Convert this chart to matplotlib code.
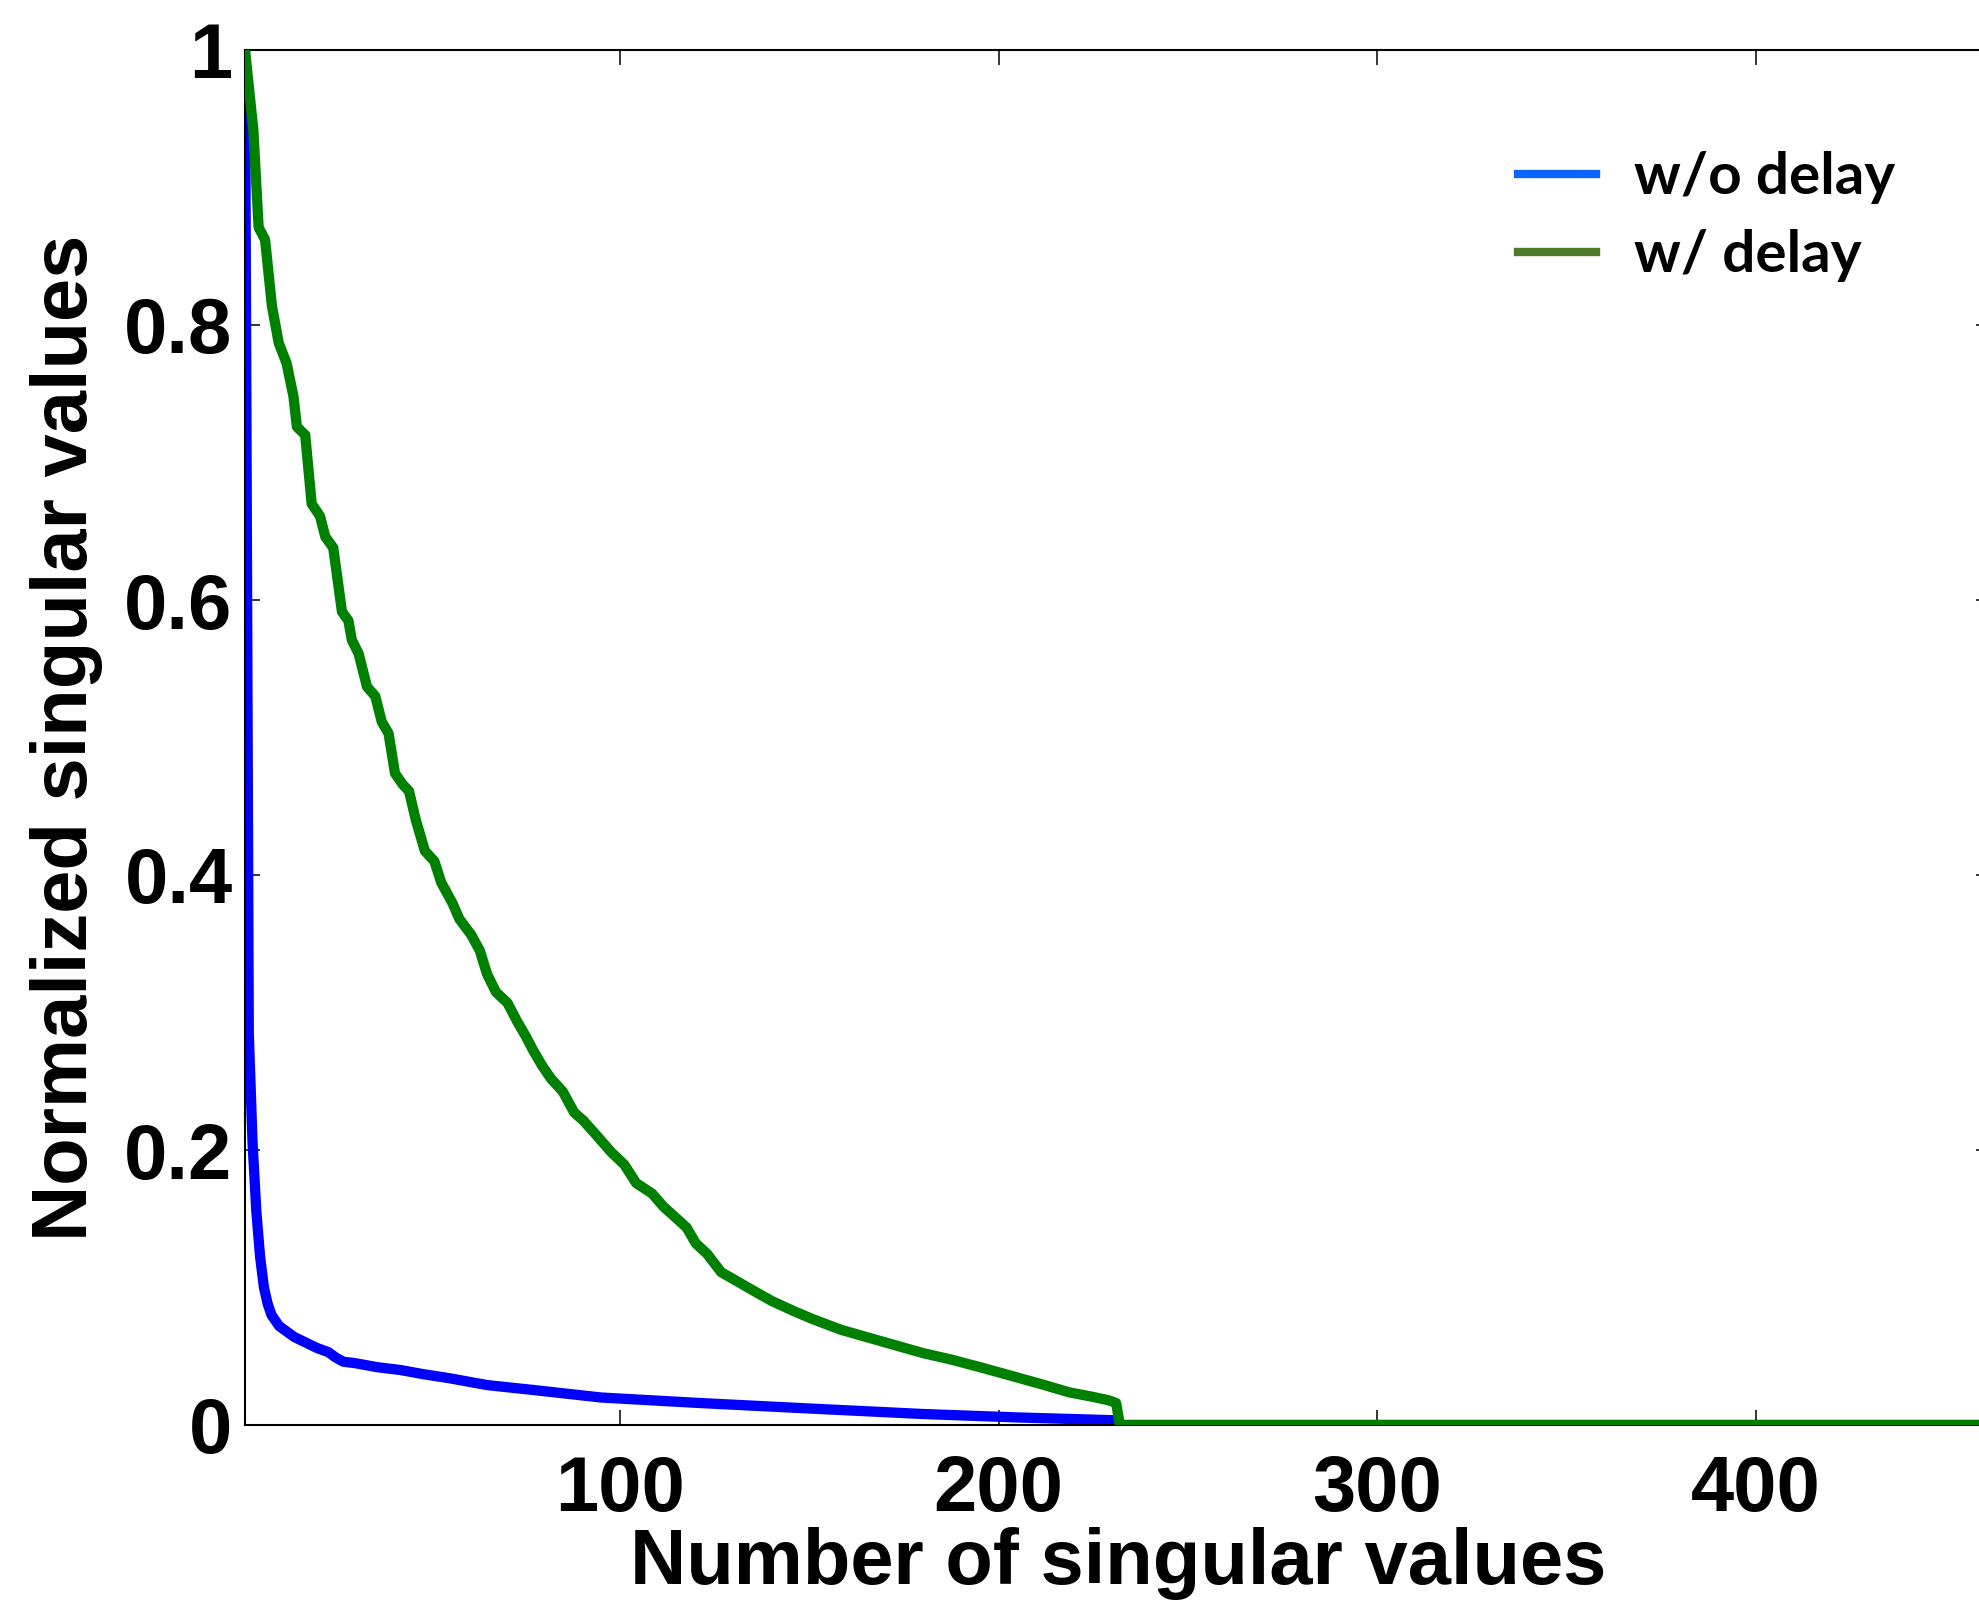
import matplotlib
matplotlib.use("Agg")
import matplotlib.pyplot as plt
from matplotlib.lines import Line2D

# ---- data ----
wo_x = [1, 2, 3, 4, 5, 6, 7, 8, 9, 10, 12, 14, 17, 20, 23, 25, 27, 30, 33, 36, 42, 48,
        55, 65, 77, 95, 121, 150, 180, 205, 230, 231, 462]
wo_y = [1.0, 0.285, 0.205, 0.155, 0.122, 0.100, 0.088, 0.080, 0.076, 0.072, 0.068, 0.064,
        0.060, 0.056, 0.053, 0.049, 0.046, 0.045, 0.0435, 0.042, 0.040, 0.037, 0.034,
        0.029, 0.0255, 0.0200, 0.016, 0.012, 0.008, 0.0055, 0.0035, 0.0, 0.0]

w_x = [1, 3.2, 4.6, 6.3, 8.1, 9.9, 12, 13.8, 14.7, 16.9, 18.6, 20.8, 22.2, 24.3, 26.6, 28.3,
       29.2, 31, 33.2, 35.4, 37.1, 38.9, 40.6, 42.6, 44.3, 46.1, 48.5, 51, 52.8, 55.8, 57.6,
       60.7, 63, 64.9, 67.3, 70.3, 72.8, 75.2, 77, 79.4, 81.8, 84.9, 87.9, 90.3, 94, 97.6,
       101.2, 104.3, 108.5, 111.5, 114.6, 117.6, 120, 123, 126.7, 130.3, 135.1, 140, 146,
       150.9, 158.2, 165.4, 172.7, 180, 187.3, 195.7, 204.2, 211.5, 218.7, 224.8, 229, 231,
       232, 462]
w_y = [1.0, 0.942, 0.871, 0.862, 0.814, 0.787, 0.772, 0.748, 0.726, 0.720, 0.670, 0.661,
       0.646, 0.638, 0.5915, 0.585, 0.571, 0.561, 0.537, 0.530, 0.5115, 0.503, 0.474, 0.466,
       0.461, 0.440, 0.4175, 0.410, 0.3946, 0.3794, 0.368, 0.3566, 0.345, 0.328, 0.3147,
       0.307, 0.2938, 0.2824, 0.2729, 0.2615, 0.2519, 0.2425, 0.2273, 0.2215, 0.2101,
       0.1987, 0.1892, 0.1759, 0.1683, 0.1588, 0.1511, 0.1436, 0.1322, 0.1245, 0.1112,
       0.1055, 0.0979, 0.0903, 0.0827, 0.077, 0.0694, 0.0637, 0.058, 0.0523, 0.0477,
       0.0416, 0.0351, 0.0295, 0.0237, 0.0205, 0.018, 0.016, 0.0, 0.0]

series_labels = ["w/o delay", "w/ delay"]
x_ticks = [100, 200, 300, 400]
y_ticks = [0, 0.2, 0.4, 0.6, 0.8, 1.0]
y_ticklabels = ["0", "0.2", "0.4", "0.6", "0.8", "1"]
x_label = "Number of singular values"
y_label = "Normalized singular values"

W, H = 1979, 1602
fig = plt.figure(figsize=(W / 100, H / 100), dpi=100)
fig.patch.set_facecolor("white")

left, right, bottom, top = 245, 1991, 1425, 50
ax = fig.add_axes([left / W, (H - bottom) / H, (right - left) / W, (bottom - top) / H])

ax.plot(wo_x, wo_y, color="#0000ff", lw=7.4, solid_joinstyle="round", zorder=2)
ax.plot(w_x, w_y, color="#008000", lw=7.4, solid_joinstyle="round", zorder=3)

ax.set_xlim(1, 462)
ax.set_ylim(0, 1)
ax.set_xticks(x_ticks)
ax.set_xticklabels([str(t) for t in x_ticks])
ax.set_yticks(y_ticks)
ax.set_yticklabels(y_ticklabels)

for lab in ax.get_xticklabels() + ax.get_yticklabels():
    lab.set_fontfamily("Liberation Sans")
    lab.set_fontweight("bold")
    lab.set_fontsize(56)

ax.tick_params(axis="both", direction="in", length=11, width=1.1, top=True, right=True)
ax.tick_params(axis="x", pad=21)
ax.tick_params(axis="y", pad=9)
for s in ax.spines.values():
    s.set_linewidth(1.5)

ax.set_xlabel(x_label, fontfamily="Liberation Sans", fontweight="bold", fontsize=56, labelpad=0)
ax.set_ylabel(y_label, fontfamily="Liberation Sans", fontweight="bold", fontsize=56, labelpad=15)

handles = [Line2D([], [], color="#0a64ff", lw=6),
           Line2D([], [], color="#4f7a28", lw=6)]
leg = ax.legend(handles, series_labels, loc="upper left",
                bbox_to_anchor=(1518 / W, (H - 151) / H), bbox_transform=fig.transFigure,
                frameon=False, prop=dict(family="Lato", weight="bold", size=42),
                handlelength=1.34, handletextpad=0.65, labelspacing=0.43, borderpad=0,
                borderaxespad=0)

fig.savefig("out.png", dpi=100, facecolor="white")
